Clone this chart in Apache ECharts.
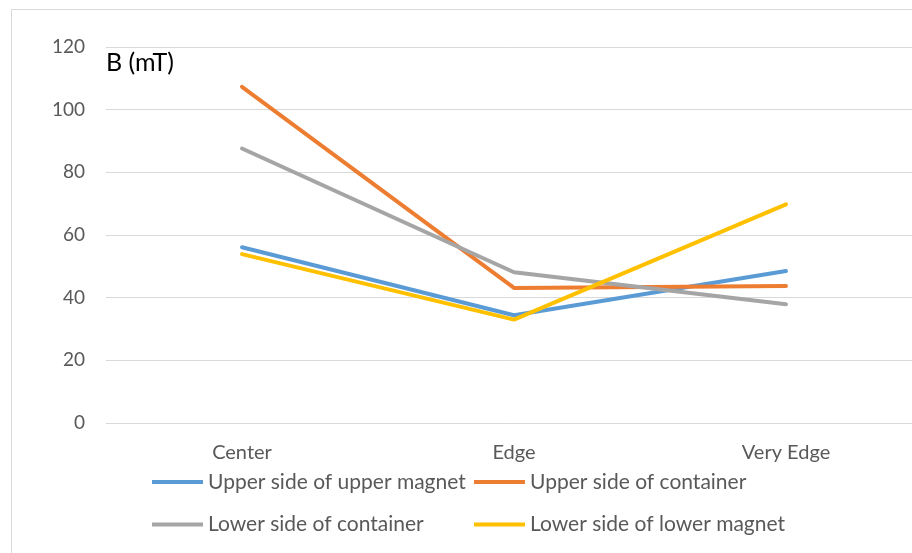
<!DOCTYPE html>
<html>
<head>
<meta charset="utf-8">
<script src="https://cdn.jsdelivr.net/npm/echarts@6/dist/echarts.min.js"></script>
<style>
  html, body { margin: 0; padding: 0; background: #fff; }
  #chart { width: 912px; height: 553px; }
</style>
</head>
<body>
<div id="chart"></div>
<script>
// Magnetic field measured at three positions
const categories = ['Center', 'Edge', 'Very Edge'];
const yTicks = [0, 20, 40, 60, 80, 100, 120];

const upperSideUpperMagnet = [56.1, 34.4, 48.5];
const upperSideContainer   = [107.3, 43.1, 43.7];
const lowerSideContainer   = [87.6, 48.1, 37.9];
const lowerSideLowerMagnet = [53.9, 33.0, 69.8];

const seriesNames = [
  'Upper side of upper magnet',
  'Upper side of container',
  'Lower side of container',
  'Lower side of lower magnet'
];
const seriesColors = ['#5B9BD5', '#ED7D31', '#A5A5A5', '#FFC000'];
const seriesData = [upperSideUpperMagnet, upperSideContainer, lowerSideContainer, lowerSideLowerMagnet];

const FONT = 'Lato';
const chart = echarts.init(document.getElementById('chart'), null, { renderer: 'canvas' });

const legendText = { fontFamily: FONT, fontSize: 21, color: '#595959', lineHeight: 22 };
const legendBase = {
  orient: 'vertical',
  top: 471,
  itemWidth: 51, itemHeight: 4, itemGap: 20.6,
  icon: 'rect',
  textStyle: legendText,
  padding: 0
};

chart.setOption({
  animation: false,
  backgroundColor: '#fff',
  // plot area runs past the right edge of the canvas
  grid: { left: 106, width: 816, top: 47, height: 376, containLabel: false, outerBoundsMode: 'none' },
  xAxis: {
    type: 'category',
    data: categories,
    boundaryGap: true,
    axisLine: { show: false },
    axisTick: { show: false },
    axisLabel: { fontFamily: FONT, fontSize: 20, color: '#595959', margin: 20 }
  },
  yAxis: {
    type: 'value',
    min: yTicks[0],
    max: yTicks[yTicks.length - 1],
    interval: 20,
    axisLine: { show: false },
    axisTick: { show: false },
    axisLabel: { fontFamily: FONT, fontSize: 19, color: '#595959', margin: 21 },
    splitLine: { lineStyle: { color: '#d9d9d9', width: 1 } }
  },
  legend: [
    Object.assign({ data: [seriesNames[0], seriesNames[2]], left: 152 }, legendBase),
    Object.assign({ data: [seriesNames[1], seriesNames[3]], left: 474 }, legendBase)
  ],
  graphic: [
    {
      type: 'rect',
      shape: { x: 11.5, y: 9.5, width: 920, height: 560 },
      style: { fill: 'none', stroke: '#d9d9d9', lineWidth: 1 },
      silent: true
    },
    {
      type: 'text',
      left: 106, top: 50,
      style: { text: 'B (mT)', fontFamily: FONT, fontSize: 25, fill: '#000' },
      silent: true
    }
  ],
  series: seriesNames.map((name, i) => ({
    name,
    type: 'line',
    data: seriesData[i],
    symbol: 'none',
    lineStyle: { width: 4, color: seriesColors[i], cap: 'round', join: 'round' },
    itemStyle: { color: seriesColors[i] }
  }))
});
</script>
</body>
</html>
